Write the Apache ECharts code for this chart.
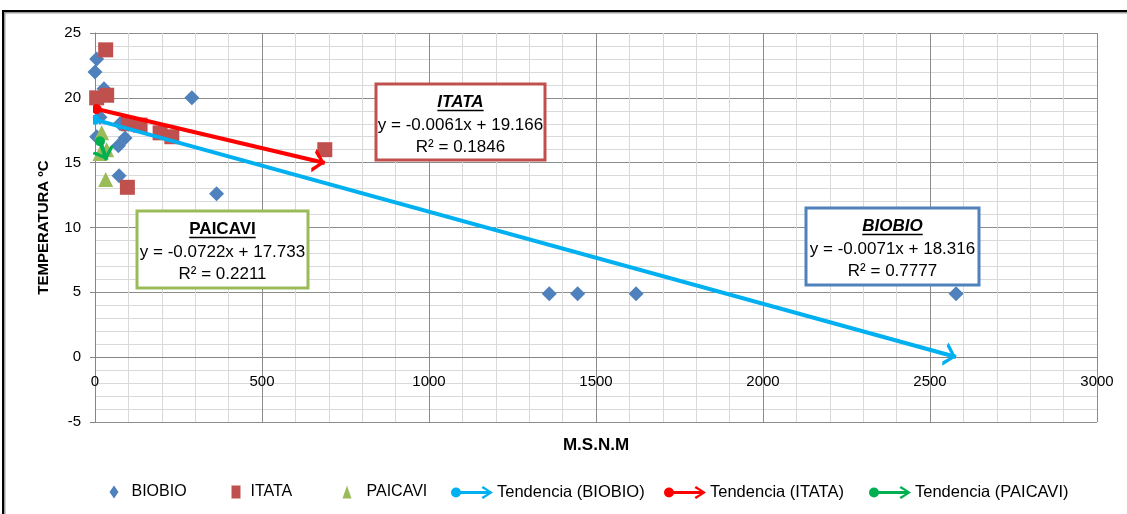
<!DOCTYPE html>
<html>
<head>
<meta charset="utf-8">
<script src="https://cdn.jsdelivr.net/npm/echarts@6/dist/echarts.min.js"></script>
<style>
  html, body { margin: 0; padding: 0; background: #fff; }
  #chart { width: 1127px; height: 514px; }
</style>
</head>
<body>
<div id="chart"></div>
<script>
// Altitude (m.s.n.m) vs temperature for three basins
const biobioX = [0, 5, 27, 15, 75, 5, 70, 90, 72, 290, 364, 1360, 1445, 1620, 2578];
const biobioY = [22.0, 23.0, 20.7, 18.5, 18.0, 17.0, 16.3, 16.9, 14.0, 20.0, 12.6, 4.9, 4.9, 4.9, 4.9];

const itataX = [32, 5, 35, 100, 135, 195, 230, 97, 688];
const itataY = [23.7, 20.0, 20.2, 18.0, 17.9, 17.3, 17.0, 13.1, 16.0];

const paicaviX = [20, 15, 35, 32];
const paicaviY = [17.3, 15.7, 16.0, 13.7];

// Linear trend: slope, intercept, R²
const seriesNames = ['BIOBIO', 'ITATA', 'PAICAVI'];
const slopes = [-0.0071, -0.0061, -0.0722];
const intercepts = [18.316, 19.166, 17.733];
const rSquared = ['0.7777', '0.1846', '0.2211'];
const eqLabels = ['y = -0.0071x + 18.316', 'y = -0.0061x + 19.166', 'y = -0.0722x + 17.733'];

const markerColors = ['#4F81BD', '#C0504D', '#9BBB59'];
const trendColors = ['#00B0F0', '#FF0000', '#00B050'];

const FONT = "'Liberation Sans', Arial, sans-serif";

function pairs(xs, ys) { return xs.map((x, i) => [x, ys[i]]); }

function trendCoords(xs, k) {
  const x0 = Math.min(...xs), x1 = Math.max(...xs);
  return [[x0, slopes[k] * x0 + intercepts[k]], [x1, slopes[k] * x1 + intercepts[k]]];
}

const allX = [biobioX, itataX, paicaviX];
const allY = [biobioY, itataY, paicaviY];
const markerShapes = ['diamond', 'rect', 'triangle'];
const markerSizes = [15, 15, 15];

// open arrow head pointing up; the empty point above keeps the tip at the symbol centre
const chevron = 'path://M6,-12 L6.01,-12 Z M6,0 L12,11 L10,12 L6,4.2 L2,12 L0,11 Z';
// legend icon: dot, shaft and open arrow head
const trendIcon = 'path://M0,7 A5,5 0 1,1 10,7 A5,5 0 1,1 0,7 Z M5,5.5 L39,5.5 L39,8.5 L5,8.5 Z M32,0.5 L42,7 L32,13.5 L30.5,11.5 L38.5,7 L30.5,2.5 Z';

const series = [];
seriesNames.forEach((n, k) => {
  series.push({
    name: n,
    type: 'scatter',
    symbol: markerShapes[k],
    symbolSize: markerSizes[k],
    itemStyle: { color: markerColors[k], opacity: 1 },
    z: 2,
    data: pairs(allX[k], allY[k])
  });
});
seriesNames.forEach((n, k) => {
  series.push({
    name: 'Tendencia (' + n + ')',
    type: 'lines',
    coordinateSystem: 'cartesian2d',
    symbol: ['circle', chevron],
    symbolSize: [10, 24],
    lineStyle: { color: trendColors[k], width: 4, opacity: 1 },
    itemStyle: { color: trendColors[k] },
    z: 4,
    data: [{ coords: trendCoords(allX[k], k) }]
  });
});

// measure text width for underlines
const measureCtx = document.createElement('canvas').getContext('2d');
function textWidth(str, font) { measureCtx.font = font; return measureCtx.measureText(str).width; }

// equation boxes: [left, top, width, height, italic]
const boxes = [
  [806, 208, 173, 77, true],
  [376, 84, 169, 76, true],
  [137, 211, 171, 77, false]
];

const graphics = [
  { type: 'rect', silent: true, z: 0,
    shape: { x: 4, y: 12, width: 1140, height: 520 },
    style: { fill: 'none', stroke: '#9a9a9a', lineWidth: 3 } },
  { type: 'rect', silent: true, z: 1,
    shape: { x: 3, y: 11, width: 1140, height: 520 },
    style: { fill: 'none', stroke: '#000', lineWidth: 2 } }
];

boxes.forEach((b, k) => {
  const cx = b[0] + b[2] / 2;
  const titleFont = (b[4] ? 'italic ' : '') + 'bold 17px ' + FONT;
  const tw = textWidth(seriesNames[k], titleFont);
  graphics.push(
    { type: 'rect', z: 10, shape: { x: b[0], y: b[1], width: b[2], height: b[3] },
      style: { fill: '#fff', stroke: markerColors[k], lineWidth: 3 } },
    { type: 'text', z: 11, x: cx, y: b[1] + 18,
      style: { text: seriesNames[k], font: titleFont, fill: '#000', align: 'center', verticalAlign: 'middle' } },
    { type: 'line', z: 11, shape: { x1: cx - tw / 2, y1: b[1] + 26.5, x2: cx + tw / 2, y2: b[1] + 26.5 },
      style: { stroke: '#000', lineWidth: 1.3 } },
    { type: 'text', z: 11, x: cx, y: b[1] + 41,
      style: { text: eqLabels[k], font: '17px ' + FONT, fill: '#000', align: 'center', verticalAlign: 'middle' } },
    { type: 'text', z: 11, x: cx, y: b[1] + 63.5,
      style: { text: 'R² = ' + rSquared[k], font: '17px ' + FONT, fill: '#000', align: 'center', verticalAlign: 'middle' } }
  );
});

// legend entries, one block each: [left, text padding]
const markerLegendPos = [[104.5, 8], [226.5, 5], [337.5, 10]];
const trendLegendPos = [[446, -1], [659, -1], [864, -1]];

const legends = [];
seriesNames.forEach((n, k) => {
  legends.push({
    left: markerLegendPos[k][0], top: 479, itemWidth: 9, itemHeight: 13,
    textStyle: { fontSize: 16, color: '#000', padding: [0, 0, 0, markerLegendPos[k][1]] },
    data: [{ name: n, icon: markerShapes[k], itemStyle: { color: markerColors[k] } }]
  });
});
seriesNames.forEach((n, k) => {
  legends.push({
    left: trendLegendPos[k][0], top: 479, itemWidth: 42, itemHeight: 14,
    textStyle: { fontSize: 16.5, color: '#000', padding: [0, 0, 0, trendLegendPos[k][1]] },
    data: [{ name: 'Tendencia (' + n + ')', icon: trendIcon,
      itemStyle: { color: trendColors[k], borderWidth: 0 } }]
  });
});

const plainNumber = v => String(v);
const Y_MIN = -5, Y_MAX = 25;

const chart = echarts.init(document.getElementById('chart'), null, { renderer: 'canvas' });
chart.setOption({
  animation: false,
  backgroundColor: '#fff',
  textStyle: { fontFamily: FONT },
  grid: { left: 95, right: 30, top: 33, bottom: 92, containLabel: false, outerBoundsMode: 'none' },
  xAxis: {
    type: 'value', min: 0, max: 3000, interval: 500,
    name: 'M.S.N.M', nameLocation: 'middle', nameGap: 80,
    nameTextStyle: { fontWeight: 'bold', fontSize: 17, color: '#000' },
    axisLine: { onZero: true, lineStyle: { color: '#868686', width: 1 } },
    axisTick: { show: true, length: 5, lineStyle: { color: '#868686' } },
    axisLabel: { fontSize: 15, color: '#000', margin: 17, formatter: plainNumber },
    splitLine: { show: true, lineStyle: { color: '#8c8c8c', width: 1 } },
    minorTick: { show: false, splitNumber: 5 },
    minorSplitLine: { show: true, lineStyle: { color: '#d9d9d9', width: 1 } }
  },
  yAxis: {
    type: 'value', min: Y_MIN, max: Y_MAX, interval: 5,
    name: 'TEMPERATURA ºC', nameLocation: 'middle', nameGap: 44, nameRotate: 90,
    nameTextStyle: { fontWeight: 'bold', fontSize: 15, color: '#000' },
    axisLine: { show: true, onZero: false, lineStyle: { color: '#868686', width: 1 } },
    axisTick: { show: true, length: 5, lineStyle: { color: '#868686' } },
    axisLabel: { fontSize: 15, color: '#000', margin: 14, formatter: plainNumber },
    splitLine: { show: true, lineStyle: { color: '#8c8c8c', width: 1 } },
    minorTick: { show: false, splitNumber: 5 },
    minorSplitLine: { show: true, lineStyle: { color: '#d9d9d9', width: 1 } }
  },
  legend: legends,
  graphic: graphics,
  series: series
});

// the horizontal axis crosses the vertical one at temperature 0
const zeroY = chart.convertToPixel({ yAxisIndex: 0 }, 0);
const bottomY = chart.convertToPixel({ yAxisIndex: 0 }, Y_MIN);
chart.setOption({ xAxis: { offset: zeroY - bottomY } });
</script>
</body>
</html>
